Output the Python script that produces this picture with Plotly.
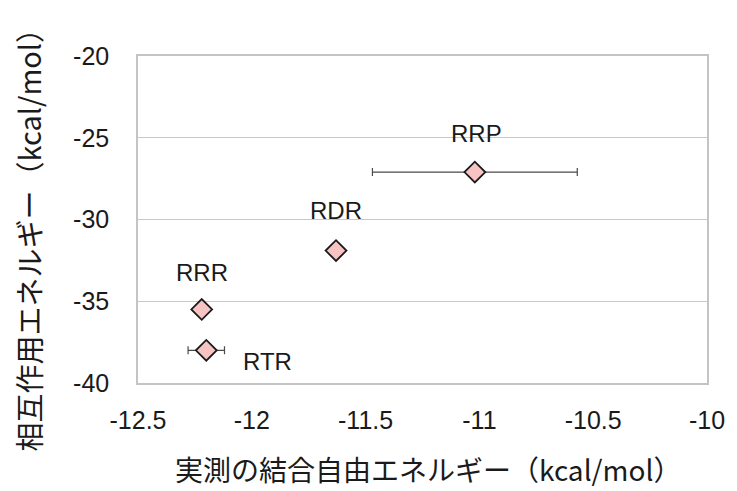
import plotly.graph_objects as go

labels = ["RRR", "RTR", "RDR", "RRP"]
x_vals = [-12.22, -12.20, -11.63, -11.02]
y_vals = [-35.5, -38.0, -31.9, -27.1]
x_err = [0, 0.08, 0, 0.45]

x_ticks = [-12.5, -12, -11.5, -11, -10.5, -10]
x_tick_text = ["-12.5", "-12", "-11.5", "-11", "-10.5", "-10"]
y_ticks = [-40, -35, -30, -25, -20]
y_tick_text = ["-40", "-35", "-30", "-25", "-20"]

x_title = "実測の結合自由エネルギー（kcal/mol）"
y_title = "相互作用エネルギー（kcal/mol）"

# label offsets in pixels (xshift, yshift)
label_shift = {"RRR": (0, 37), "RTR": (61, -11), "RDR": (0, 40), "RRP": (2, 39)}

LATIN = "Liberation Sans, Arial, Noto Sans CJK JP, sans-serif"
CJK = "Noto Sans CJK JP, Liberation Sans, sans-serif"

fig = go.Figure()
fig.add_trace(go.Scatter(
    x=x_vals, y=y_vals, mode="markers",
    marker=dict(symbol="diamond", size=16, color="#f8c3c3",
                line=dict(color="#1a1a1a", width=1.8)),
    error_x=dict(type="data", array=x_err, visible=True,
                 color="#4a4a4a", thickness=1.2, width=4),
    showlegend=False, hoverinfo="skip",
))

for lab, xv, yv in zip(labels, x_vals, y_vals):
    xs, ys = label_shift[lab]
    fig.add_annotation(x=xv, y=yv, text=lab, showarrow=False,
                       xshift=xs, yshift=ys,
                       font=dict(family=LATIN, size=24, color="#1a1a1a"))

# axis titles
fig.add_annotation(text=x_title, xref="paper", yref="paper",
                   x=0.5096, y=-0.263, xanchor="center", yanchor="middle",
                   showarrow=False,
                   font=dict(family=CJK, size=28, color="#1a1a1a"))
fig.add_annotation(text=y_title, xref="paper", yref="paper",
                   x=-0.193, y=0.461, xanchor="center", yanchor="middle",
                   textangle=-90, showarrow=False,
                   font=dict(family=CJK, size=29, color="#1a1a1a"))

# the page body adds 8px around the figure
fig.update_layout(
    width=729, height=483,
    margin=dict(l=130, r=24, t=48, b=108),
    paper_bgcolor="white", plot_bgcolor="white",
    font=dict(family=LATIN, size=25, color="#1a1a1a"),
)
fig.update_xaxes(
    range=[-12.5, -10], tickvals=x_ticks, ticktext=x_tick_text,
    showgrid=False, zeroline=False,
    showline=True, linecolor="#c4c4c4", linewidth=1.5, mirror=True,
    ticks="", ticklabelstandoff=14, ticklabeloverflow="allow",
    tickfont=dict(family=LATIN, size=25, color="#1a1a1a"),
)
fig.update_yaxes(
    range=[-40, -20], tickvals=y_ticks, ticktext=y_tick_text,
    showgrid=True, gridcolor="#c8c8c8", gridwidth=1, zeroline=False,
    showline=True, linecolor="#c4c4c4", linewidth=1.5, mirror=True,
    ticks="", ticklabelstandoff=22,
    tickfont=dict(family=LATIN, size=25, color="#1a1a1a"),
)

fig.write_html("out.html")
